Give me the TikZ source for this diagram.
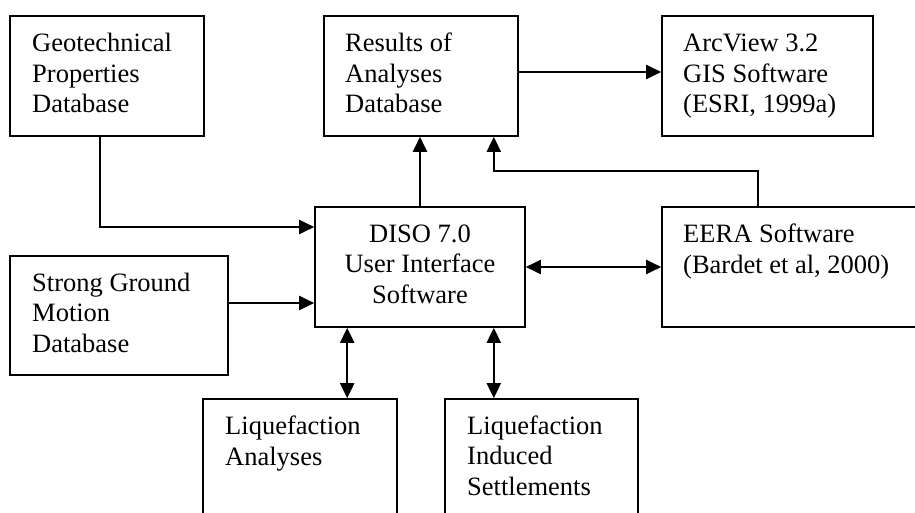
\documentclass[tikz,border=0pt]{standalone}
\usepackage{fontspec}
\setmainfont{Liberation Serif}
\usetikzlibrary{arrows.meta,calc}
\begin{document}
\begin{tikzpicture}[x=1pt,y=-1pt,
  box/.style={draw,line width=1.6pt,rectangle,inner sep=0pt},
  txt/.style={anchor=base west,inner sep=0pt,align=left,font=\fontsize{26.5}{30.5}\selectfont},
  ctxt/.style={anchor=base,inner sep=0pt,align=center,font=\fontsize{26.5}{30.5}\selectfont},
  conn/.style={line width=2pt,-{Triangle[length=15pt,width=14pt]}},
  bconn/.style={line width=2pt,{Triangle[length=15pt,width=14pt]}-{Triangle[length=15pt,width=14pt]}}]
\clip (0,0) rectangle (915,513);
\fill[white] (0,0) rectangle (915,513);
% boxes
\node[box,minimum width=194pt,minimum height=120pt] (geo) at (107,76) {};
\node[box,minimum width=194pt,minimum height=120pt] (res) at (421,76) {};
\node[box,minimum width=211pt,minimum height=120pt] (arc) at (767.5,76) {};
\node[box,minimum width=210pt,minimum height=120pt] (diso) at (420,267) {};
\node[box,minimum width=270pt,minimum height=120pt] (eera) at (797,267) {};
\node[box,minimum width=218pt,minimum height=119pt] (sgm) at (119,315.5) {};
\node[box,minimum width=194pt,minimum height=126pt] (liqa) at (300,462) {};
\node[box,minimum width=193pt,minimum height=126pt] (liqb) at (541.5,462) {};
% texts (anchored at the baseline of their last line)
\node[txt] (tgeo) at (32,113) {Geotechnical\\Properties\\Database};
\node[txt] (tres) at (345,113) {Results of\\Analyses\\Database};
\node[txt] (tarc) at (683,113) {ArcView 3.2\\GIS Software\\(ESRI, 1999a)};
\node[ctxt] (tdiso) at (420,303) {DISO 7.0\\User Interface\\Software};
\node[txt] (teera) at (683,273) {EERA Software\\(Bardet et al, 2000)};
\node[txt] (tsgm) at (32,352) {Strong Ground\\Motion\\Database};
\node[txt] (tliqa) at (225,465) {Liquefaction\\Analyses};
\node[txt] (tliqb) at (467,495) {Liquefaction\\Induced\\Settlements};
% connectors
\coordinate (gdrop) at ($(geo.south)+(-7,0)$);
\coordinate (gin) at ($(diso.west)+(0,-40)$);
\draw[conn] (gdrop) |- (gin);
\draw[conn] ($(sgm.east)+(0,-12.5)$) -- ($(diso.west)+(0,36)$);
\draw[conn] (diso.north) -- (diso.north |- res.south);
\coordinate (eup) at ($(eera.north west)+(97,0)$);
\coordinate (rin) at ($(res.south east)+(-25,0)$);
\coordinate (bend) at ($(rin)+(0,34)$);
\draw[conn] (eup) |- (bend) -- (rin);
\draw[conn] ($(res.east)+(0,-4)$) -- ($(arc.west)+(0,-4)$);
\draw[bconn] (diso.east) -- (eera.west);
\coordinate (da) at ($(diso.south west)+(33,0)$);
\coordinate (db) at ($(diso.south east)+(-32,0)$);
\draw[bconn] (da) -- (da |- liqa.north);
\draw[bconn] (db) -- (db |- liqb.north);
\end{tikzpicture}
\end{document}
